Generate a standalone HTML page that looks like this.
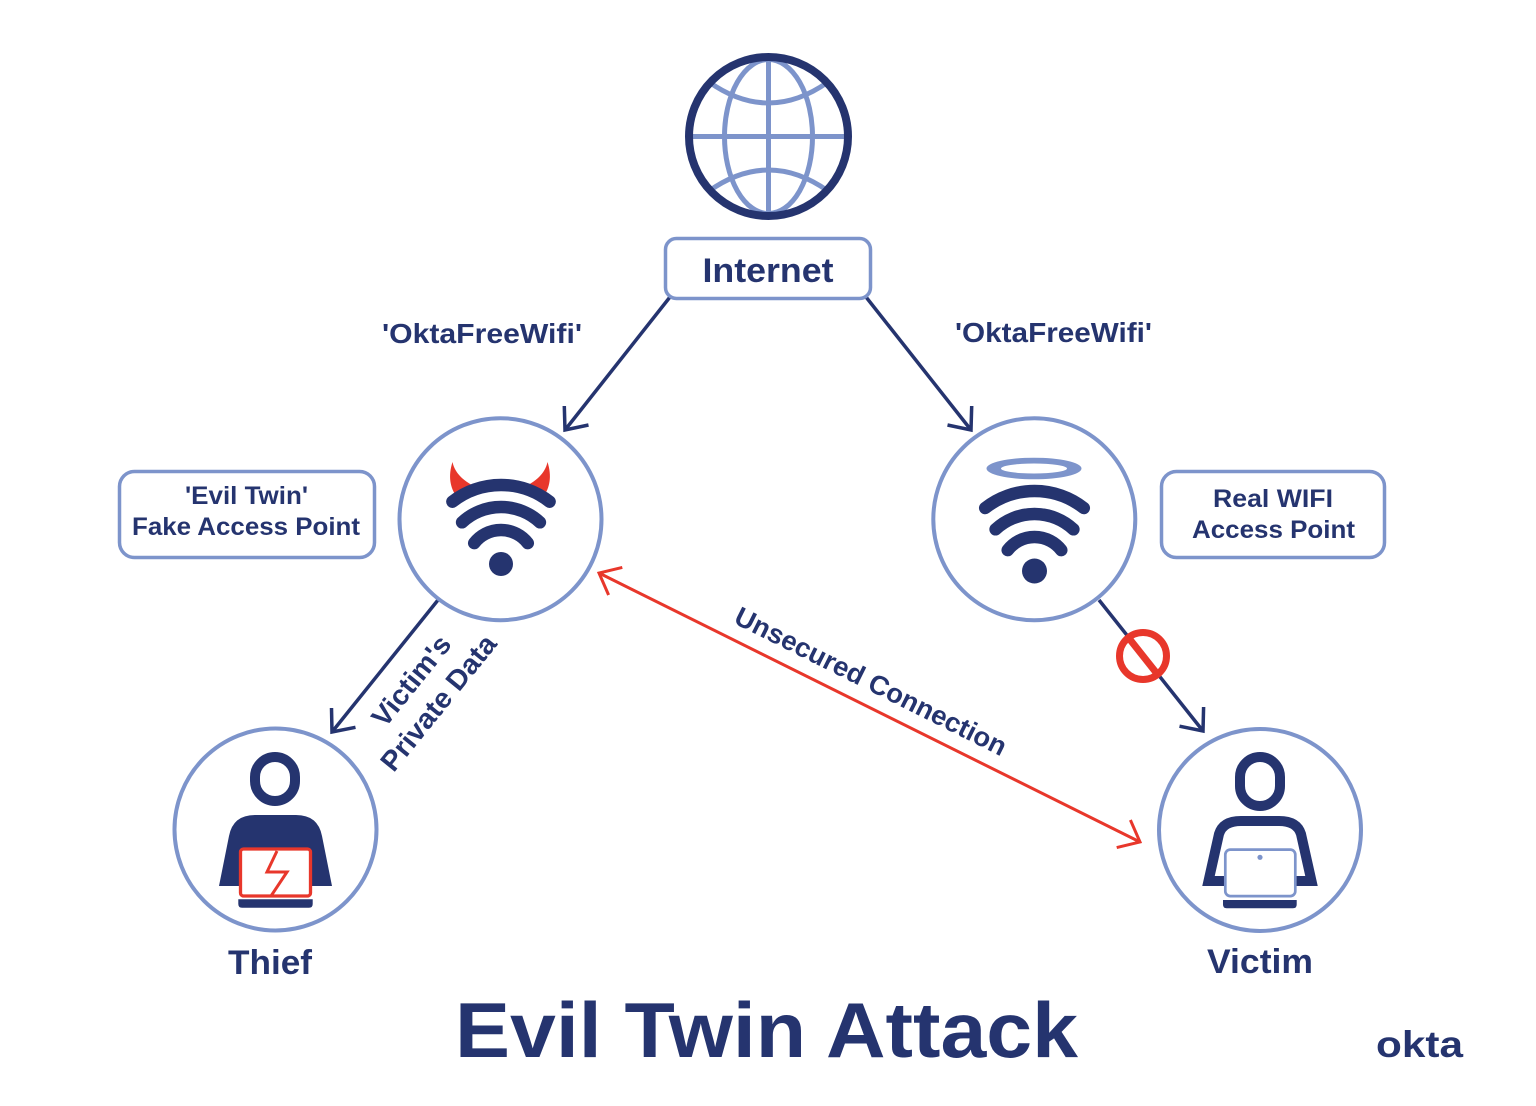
<!DOCTYPE html>
<html>
<head>
<meta charset="utf-8">
<style>
html,body{margin:0;padding:0;background:#fff;}
svg{display:block;}
text{font-family:"Liberation Sans",Arial,sans-serif;font-weight:bold;fill:#25346f;}
</style>
</head>
<body>
<svg width="1536" height="1106" viewBox="0 0 1536 1106" xmlns="http://www.w3.org/2000/svg">
<rect width="1536" height="1106" fill="#ffffff"/>

<!-- Globe -->
<g fill="none" stroke="#7d94cb" stroke-width="5">
  <line x1="768.5" y1="57" x2="768.5" y2="216"/>
  <line x1="689" y1="136.5" x2="848" y2="136.5"/>
  <ellipse cx="768.5" cy="136.5" rx="44" ry="77"/>
  <path d="M 709 82 Q 768.5 124 828 82"/>
  <path d="M 709 191 Q 768.5 149 828 191"/>
</g>
<circle cx="768.5" cy="136.5" r="79.5" fill="none" stroke="#25346f" stroke-width="8"/>

<!-- Connector lines (navy) -->
<g stroke="#25346f" stroke-width="3.5" fill="none" stroke-linejoin="miter">
  <line x1="670" y1="297" x2="565" y2="430"/>
  <polyline points="564.3,406 565,430 588.5,425"/>
  <line x1="866" y1="297" x2="971" y2="430"/>
  <polyline points="971.7,406 971,430 947.5,425"/>
  <line x1="438" y1="600" x2="332" y2="732"/>
  <polyline points="331.5,708 332,732 355.5,727.3"/>
  <line x1="1099" y1="600" x2="1203" y2="731"/>
  <polyline points="1203.6,707 1203,731 1179.5,726.2"/>
</g>

<!-- Internet box -->
<rect x="665.5" y="238.5" width="205" height="60" rx="11" fill="#ffffff" stroke="#7d94cb" stroke-width="3.5"/>
<text x="768" y="282" font-size="34" text-anchor="middle" textLength="131" lengthAdjust="spacingAndGlyphs">Internet</text>

<!-- OktaFreeWifi labels -->
<text x="482" y="343" font-size="28" text-anchor="middle" textLength="200" lengthAdjust="spacingAndGlyphs">'OktaFreeWifi'</text>
<text x="1053.5" y="342" font-size="28" text-anchor="middle" textLength="197" lengthAdjust="spacingAndGlyphs">'OktaFreeWifi'</text>

<!-- Evil twin box -->
<rect x="119.5" y="471.5" width="255" height="86" rx="15" fill="none" stroke="#7d94cb" stroke-width="3.5"/>
<text x="246.5" y="504" font-size="25" text-anchor="middle" textLength="123" lengthAdjust="spacingAndGlyphs">'Evil Twin'</text>
<text x="246" y="535" font-size="25" text-anchor="middle" textLength="228" lengthAdjust="spacingAndGlyphs">Fake Access Point</text>

<!-- Real wifi box -->
<rect x="1161.5" y="471.5" width="223" height="86" rx="15" fill="none" stroke="#7d94cb" stroke-width="3.5"/>
<text x="1273" y="507" font-size="25" text-anchor="middle" textLength="120" lengthAdjust="spacingAndGlyphs">Real WIFI</text>
<text x="1273.5" y="538" font-size="25" text-anchor="middle" textLength="163" lengthAdjust="spacingAndGlyphs">Access Point</text>

<!-- Circles -->
<g fill="#ffffff" stroke="#7d94cb" stroke-width="4">
  <circle cx="500.5" cy="519.2" r="101"/>
  <circle cx="1034.3" cy="519.2" r="101"/>
  <circle cx="275.5" cy="829.5" r="101"/>
  <circle cx="1260" cy="830" r="101"/>
</g>

<!-- Evil wifi -->
<g fill="#e8372b">
  <path d="M 452.5 462 C 448 476 450 488 457 497 L 476 487 C 465 482 455 474 452.5 462 Z"/>
  <path d="M 547.5 462 C 552 476 550 488 543 497 L 524 487 C 535 482 545 474 547.5 462 Z"/>
</g>
<g fill="none" stroke="#25346f" stroke-width="12.5" stroke-linecap="round">
  <path d="M 452.4 501.7 A 79 79 0 0 1 549.6 501.7"/>
  <path d="M 462.1 522.3 A 57 57 0 0 1 539.9 522.3"/>
  <path d="M 474.2 543.1 A 34 34 0 0 1 527.8 543.1"/>
</g>
<circle cx="501" cy="564" r="12" fill="#25346f"/>

<!-- Real wifi -->
<path fill="#7d94cb" fill-rule="evenodd" d="M 986.5 468.5 A 47.5 10.8 0 1 0 1081.5 468.5 A 47.5 10.8 0 1 0 986.5 468.5 Z M 1001 468.5 A 33 5 0 1 0 1067 468.5 A 33 5 0 1 0 1001 468.5 Z"/>
<g fill="none" stroke="#25346f" stroke-width="12.5" stroke-linecap="round">
  <path d="M 985.2 508 A 80 80 0 0 1 1083.8 508"/>
  <path d="M 995.6 529.3 A 57 57 0 0 1 1073.4 529.3"/>
  <path d="M 1007.7 550.1 A 34 34 0 0 1 1061.3 550.1"/>
</g>
<circle cx="1034.5" cy="571" r="12.5" fill="#25346f"/>

<!-- No sign -->
<circle cx="1143" cy="656" r="23.5" fill="#ffffff" stroke="#e8372b" stroke-width="7"/>
<line x1="1128.4" y1="637.6" x2="1157.6" y2="674.4" stroke="#e8372b" stroke-width="7"/>

<!-- Red unsecured connection -->
<g stroke="#e8372b" stroke-width="3" fill="none" stroke-linejoin="miter">
  <line x1="599" y1="573" x2="1140" y2="842"/>
  <polyline points="608.6,595 599,573 622.3,567.4"/>
  <polyline points="1130.4,820 1140,842 1116.7,847.6"/>
</g>
<text transform="translate(871,681) rotate(26.5)" x="0" y="9.5" font-size="27" text-anchor="middle" textLength="300" lengthAdjust="spacingAndGlyphs">Unsecured Connection</text>

<!-- Victim's Private Data -->
<g transform="translate(424.5,691.5) rotate(-51)">
  <text x="0" y="-7.5" font-size="28" text-anchor="middle" textLength="108" lengthAdjust="spacingAndGlyphs">Victim's</text>
  <text x="0" y="27.5" font-size="28" text-anchor="middle" textLength="166" lengthAdjust="spacingAndGlyphs">Private Data</text>
</g>

<!-- Thief -->
<rect x="255" y="757" width="40" height="44" rx="20" ry="20" fill="none" stroke="#25346f" stroke-width="10"/>
<path d="M 219 886 L 229 836 Q 233 815 255 815 L 296 815 Q 318 815 322 836 L 332 886 Z" fill="#25346f"/>
<rect x="240.5" y="849" width="70" height="47" rx="3" fill="#ffffff" stroke="#e8372b" stroke-width="3.3"/>
<polyline points="277,851 267,872 287,872 271,896" fill="none" stroke="#e8372b" stroke-width="3" stroke-linejoin="miter"/>
<path d="M 238.3 899.3 L 312.7 899.3 L 312.7 904 Q 312.7 907.7 309 907.7 L 242 907.7 Q 238.3 907.7 238.3 904 Z" fill="#25346f"/>
<text x="270" y="974" font-size="34" text-anchor="middle" textLength="84" lengthAdjust="spacingAndGlyphs">Thief</text>

<!-- Victim -->
<rect x="1240" y="757" width="40" height="49" rx="20" ry="20" fill="none" stroke="#25346f" stroke-width="10"/>
<path d="M 1225 881 L 1208.5 881 L 1219 834 Q 1223 821 1241 821 L 1279 821 Q 1297 821 1301 834 L 1311.5 881 L 1295 881" fill="none" stroke="#25346f" stroke-width="10" stroke-linejoin="miter"/>
<rect x="1225.3" y="849.6" width="70" height="46.5" rx="5" fill="#ffffff" stroke="#7d94cb" stroke-width="2.7"/>
<circle cx="1260" cy="857.3" r="2.6" fill="#7d94cb"/>
<path d="M 1223 900 L 1296.7 900 L 1296.7 904.5 Q 1296.7 908.3 1293 908.3 L 1226.7 908.3 Q 1223 908.3 1223 904.5 Z" fill="#25346f"/>
<text x="1260" y="973" font-size="34" text-anchor="middle" textLength="106" lengthAdjust="spacingAndGlyphs">Victim</text>

<!-- Title -->
<text x="455" y="1057" font-size="78" textLength="623" lengthAdjust="spacingAndGlyphs">Evil Twin Attack</text>

<!-- okta logo -->
<text x="1376" y="1057" font-size="37" textLength="87" lengthAdjust="spacingAndGlyphs">okta</text>
</svg>
</body>
</html>
